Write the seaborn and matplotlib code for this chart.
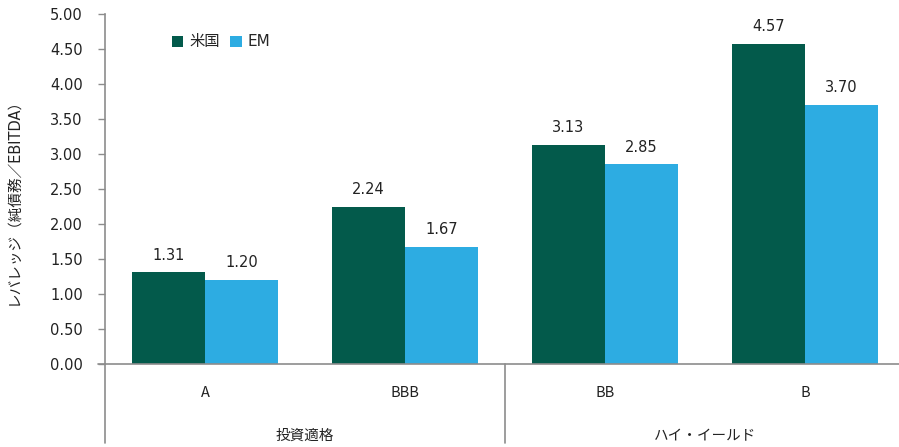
import pandas as pd
import matplotlib
matplotlib.use('Agg')
import matplotlib.pyplot as plt
import seaborn as sns

# data
ratings = ['A', 'BBB', 'BB', 'B']
us = [1.31, 2.24, 3.13, 4.57]
em = [1.20, 1.67, 2.85, 3.70]
groups = ['投資適格', 'ハイ・イールド']
series = ['米国', 'EM']
colors = ['#035a4b', '#2dace2']
yticks = [0, 0.5, 1.0, 1.5, 2.0, 2.5, 3.0, 3.5, 4.0, 4.5, 5.0]

sns.set_style('white')
plt.rcParams['font.family'] = ['DejaVu Sans', 'Noto Sans CJK JP']
LAT = ['DejaVu Sans']
JP = ['Noto Sans CJK JP', 'DejaVu Sans']
MIX = ['DejaVu Sans', 'Noto Sans CJK JP']
GRAY = '#8c8c8c'
TXT = '#222222'

df = pd.DataFrame({
    'rating': ratings * 2,
    'value': us + em,
    'series': [series[0]] * 4 + [series[1]] * 4,
})

W, H = 899, 447
fig = plt.figure(figsize=(W / 100, H / 100), dpi=100)
ax = fig.add_axes([105 / W, (H - 364) / H, 800 / W, 350 / H])

sns.barplot(ax=ax, data=df, x='rating', y='value', hue='series', order=ratings,
            hue_order=series, palette=colors, width=0.73, saturation=1, errorbar=None,
            linewidth=0)

for c in ax.containers:
    ax.bar_label(c, fmt='%.2f', padding=7, fontsize=10.5, color=TXT, family=LAT)

ax.set_xlim(-0.5, 3.5)
ax.set_ylim(0, 5)
ax.set_yticks(yticks)
ax.set_yticklabels([f'{t:.2f}' for t in yticks], fontsize=10.5, color=TXT, family=LAT)
ax.tick_params(axis='y', direction='out', length=5, width=1, color=GRAY, pad=11, left=True)
ax.tick_params(axis='x', length=0, labelbottom=False)
ax.set_xlabel('')
ax.set_ylabel('レバレッジ（純債務／EBITDA）', family=MIX, fontsize=10.5, color=TXT)
ax.yaxis.set_label_coords(-0.104, 0.475)

for s in ['top', 'right']:
    ax.spines[s].set_visible(False)
ax.spines['left'].set_color(GRAY)
ax.spines['bottom'].set_color(GRAY)
ax.spines['left'].set_linewidth(1.2)
ax.spines['bottom'].set_linewidth(1.2)

# category axis below zero line
ax.plot([-0.5, -0.5], [0, -1.13], color=GRAY, lw=1.2, clip_on=False)
ax.plot([1.5, 1.5], [0, -1.13], color=GRAY, lw=1.2, clip_on=False)
ax.plot([-0.535, -0.5], [0, 0], color=GRAY, lw=1.2, clip_on=False)
for i, r in enumerate(ratings):
    ax.text(i, -0.41, r, ha='center', va='center', family=JP, fontsize=10.5, color=TXT)
for i, g in enumerate(groups):
    ax.text(0.5 + 2 * i, -1.03, g, ha='center', va='center', family=JP, fontsize=10.5, color=TXT)

leg = ax.legend(loc='center left', bbox_to_anchor=(0.066, 0.92), ncol=2, frameon=False,
                handlelength=0.75, handleheight=0.75, handletextpad=0.4, columnspacing=0.7,
                prop={'family': MIX, 'size': 11})

fig.savefig('out.png', dpi=100)
